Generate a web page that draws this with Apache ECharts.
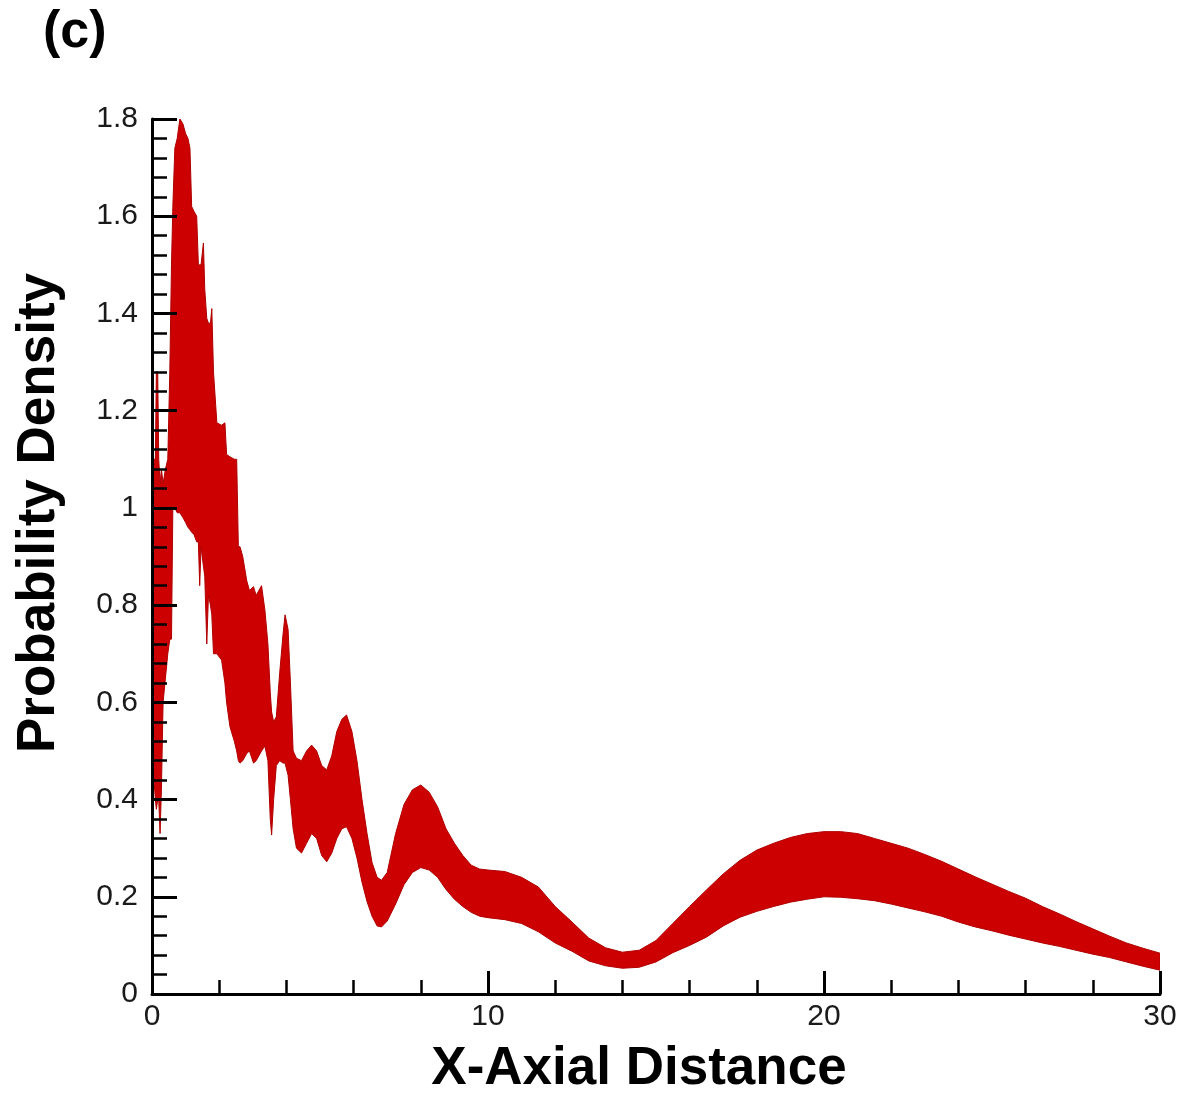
<!DOCTYPE html>
<html>
<head>
<meta charset="utf-8">
<script src="https://cdn.jsdelivr.net/npm/echarts@6/dist/echarts.min.js"></script>
<style>
html,body{margin:0;padding:0;background:#fff;}
#chart{width:1188px;height:1098px;}
</style>
</head>
<body>
<div id="chart"></div>
<script>
// X-axial distance sample positions
const xPos = [
  0.00,0.05,0.10,0.13,0.17,0.20,0.24,0.28,0.33,0.40,0.47,0.53,0.58,0.62,0.68,0.75,0.83,0.92,
  1.00,1.07,1.13,1.18,1.25,1.33,1.38,1.42,1.46,1.53,1.57,1.63,1.68,1.74,1.78,1.83,1.93,
  2.07,2.17,2.22,2.32,2.45,2.52,2.57,2.62,2.70,2.82,2.90,3.02,3.10,3.26,3.36,3.45,3.52,3.56,
  3.62,3.70,3.80,3.90,3.96,4.05,4.12,4.20,4.30,4.45,4.60,4.75,4.90,5.05,5.20,5.35,5.50,5.65,
  5.79,5.95,6.10,6.25,6.40,6.55,6.70,6.83,7.00,7.25,7.50,7.75,8.00,8.25,8.50,8.75,9.00,9.25,
  9.50,9.75,10.0,10.5,11.0,11.5,12.0,12.5,13.0,13.5,14.0,14.5,15.0,15.5,16.0,16.5,17.0,17.5,
  18.0,18.5,19.0,19.5,20.0,20.5,21.0,21.5,22.0,22.5,23.0,23.5,24.0,24.5,25.0,25.5,26.0,26.5,
  27.0,27.5,28.0,28.5,29.0,29.5,30.0
];
// Upper envelope of the oscillating probability density
const upperDensity = [
  1.05,1.10,1.10,1.28,1.28,1.10,1.05,1.08,1.05,1.08,1.10,1.28,1.50,1.62,1.74,1.76,1.80,1.79,
  1.77,1.76,1.74,1.62,1.61,1.60,1.50,1.50,1.50,1.545,1.45,1.39,1.38,1.38,1.41,1.28,1.175,
  1.17,1.175,1.11,1.105,1.10,1.10,0.92,0.92,0.90,0.85,0.83,0.838,0.82,0.84,0.79,0.72,0.62,0.58,
  0.56,0.57,0.66,0.74,0.78,0.75,0.64,0.50,0.485,0.48,0.50,0.512,0.50,0.47,0.461,0.49,0.54,0.565,
  0.574,0.54,0.48,0.40,0.33,0.27,0.24,0.234,0.25,0.33,0.39,0.42,0.43,0.415,0.385,0.34,0.31,0.285,
  0.265,0.257,0.255,0.252,0.24,0.22,0.18,0.148,0.115,0.095,0.086,0.09,0.11,0.145,0.18,0.214,0.247,0.275,
  0.296,0.31,0.322,0.33,0.334,0.334,0.33,0.32,0.31,0.30,0.287,0.273,0.257,0.241,0.226,0.211,0.197,0.18,
  0.165,0.149,0.134,0.119,0.105,0.094,0.084
];
// Lower envelope of the oscillating probability density
const lowerDensity = [
  0.62,0.45,0.40,0.38,0.40,0.40,0.33,0.42,0.60,0.65,0.70,0.73,0.73,1.00,1.00,0.99,0.99,0.98,
  0.97,0.96,0.955,0.95,0.945,0.93,0.93,0.84,0.92,0.88,0.86,0.72,0.82,0.80,0.78,0.70,0.70,
  0.687,0.64,0.60,0.55,0.52,0.50,0.48,0.475,0.48,0.495,0.50,0.475,0.48,0.50,0.51,0.48,0.36,0.327,
  0.40,0.47,0.48,0.475,0.475,0.45,0.40,0.34,0.30,0.29,0.31,0.33,0.32,0.285,0.272,0.29,0.32,0.34,
  0.344,0.32,0.28,0.23,0.19,0.16,0.14,0.138,0.15,0.185,0.225,0.25,0.26,0.255,0.24,0.215,0.195,0.18,
  0.168,0.16,0.157,0.153,0.145,0.128,0.105,0.088,0.068,0.058,0.053,0.055,0.066,0.085,0.10,0.117,0.14,0.158,
  0.17,0.18,0.189,0.195,0.20,0.199,0.196,0.192,0.185,0.177,0.169,0.16,0.148,0.138,0.13,0.121,0.113,0.105,
  0.098,0.09,0.082,0.075,0.066,0.057,0.049
];
// Axis tick values
const xTicks = [0, 10, 20, 30];
const yTicks = [0, 0.2, 0.4, 0.6, 0.8, 1, 1.2, 1.4, 1.6, 1.8];

const FONT = "'Liberation Sans', Arial, Helvetica, sans-serif";
const chart = echarts.init(document.getElementById('chart'), null, {renderer: 'canvas'});

function renderBand(params, api) {
  const pts = [];
  for (let i = 0; i < xPos.length; i++) pts.push(api.coord([xPos[i], upperDensity[i]]));
  for (let i = xPos.length - 1; i >= 0; i--) pts.push(api.coord([xPos[i], lowerDensity[i]]));
  return {
    type: 'polygon',
    shape: {points: pts},
    style: {fill: '#cc0000', stroke: '#b00000', lineWidth: 1}
  };
}

chart.setOption({
  animation: false,
  backgroundColor: '#ffffff',
  grid: {left: 152, right: 28, top: 119, bottom: 104, containLabel: false},
  xAxis: {
    type: 'value', z: 10,
    min: xTicks[0], max: xTicks[xTicks.length - 1], interval: xTicks[1] - xTicks[0],
    axisLine: {show: true, onZero: false, lineStyle: {color: '#000', width: 3}},
    axisTick: {show: true, inside: true, length: 23, lineStyle: {color: '#000', width: 3}},
    minorTick: {show: true, splitNumber: 5, length: 14, lineStyle: {color: '#000', width: 2.5}},
    splitLine: {show: false},
    axisLabel: {margin: 8, color: '#1a1a1a', fontSize: 30, fontFamily: FONT}
  },
  yAxis: {
    type: 'value', z: 10,
    min: yTicks[0], max: yTicks[yTicks.length - 1], interval: 0.2,
    axisLine: {show: true, onZero: false, lineStyle: {color: '#000', width: 3}},
    axisTick: {show: true, inside: true, length: 25, lineStyle: {color: '#000', width: 3}},
    minorTick: {show: true, splitNumber: 5, length: 15, lineStyle: {color: '#000', width: 2.5}},
    splitLine: {show: false},
    axisLabel: {margin: 14, color: '#1a1a1a', fontSize: 30, fontFamily: FONT,
      formatter: v => String(Math.round(v * 10) / 10)}
  },
  graphic: [
    {type: 'text', left: 43, top: 7, style: {text: '(c)', font: "bold 52px " + FONT, fill: '#000'}},
    {type: 'text', x: 39, y: 513, rotation: Math.PI / 2,
      style: {text: 'Probability Density', font: "bold 53px " + FONT, fill: '#000', align: 'center', verticalAlign: 'middle'}},
    {type: 'text', x: 639, y: 1069,
      style: {text: 'X-Axial Distance', font: "bold 53px " + FONT, fill: '#000', align: 'center', verticalAlign: 'middle'}}
  ],
  series: [
    {
      name: 'Probability Density', type: 'custom',
      renderItem: renderBand,
      data: [[xPos[0], upperDensity[0]]],
      clip: true,
      z: 2
    }
  ]
});
</script>
</body>
</html>
